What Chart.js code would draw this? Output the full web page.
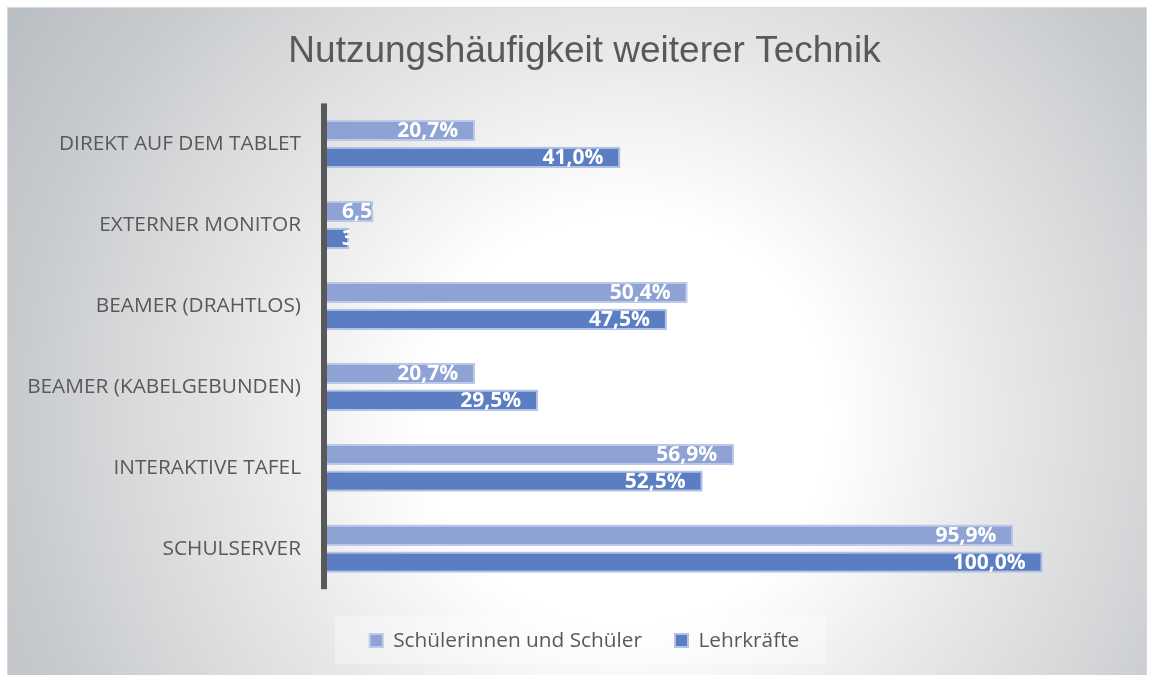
<!DOCTYPE html>
<html>
<head>
<meta charset="utf-8">
<script src="https://cdn.jsdelivr.net/npm/chart.js@4"></script>
<style>
  html, body { margin: 0; padding: 0; background: #fff; }
  #wrap { width: 1150px; height: 675px; }
</style>
</head>
<body>
<div id="wrap"><canvas id="myChart" width="1150" height="675"></canvas></div>
<script>
// data
const categories = ["DIREKT AUF DEM TABLET", "EXTERNER MONITOR", "BEAMER (DRAHTLOS)", "BEAMER (KABELGEBUNDEN)", "INTERAKTIVE TAFEL", "SCHULSERVER"]
const schueler = [20.7, 6.5, 50.4, 20.7, 56.9, 95.9]
const lehrer = [41.0, 3.1, 47.5, 29.5, 52.5, 100.0]
const seriesNames = ["Schülerinnen und Schüler", "Lehrkräfte"]

const grey = "#595959"

// frame + radial background
const bgPlugin = {
    id: "bg",
    beforeDraw(chart) {
        const c = chart.ctx
        c.save()
        c.fillStyle = "#fff"
        c.fillRect(0, 0, chart.width, chart.height)
        const g = c.createRadialGradient(625, 420, 0, 625, 420, 760)
        g.addColorStop(0, "#FFFFFF")
        g.addColorStop(0.27, "#FFFFFF")
        g.addColorStop(0.5, "#E7E7E8")
        g.addColorStop(0.8, "#C8CBCE")
        g.addColorStop(1, "#B7BCC0")
        c.fillStyle = g
        c.fillRect(7, 7, 1140, 668)
        c.strokeStyle = "#D9D9D9"
        c.lineWidth = 1
        c.strokeRect(7.5, 7.5, 1139, 668)
        // legend backdrop
        const boxes = chart.legend.legendHitBoxes
        if (boxes && boxes.length) {
            const l = Math.min(...boxes.map(b => b.left))
            const r = Math.max(...boxes.map(b => b.left + b.width))
            const cy = boxes[0].top + boxes[0].height / 2
            c.fillStyle = "rgba(255,255,255,0.35)"
            c.fillRect(l - 35, cy - 24, r - l + 62, 47)
        }
        c.restore()
    }
}

// thick category axis line left of the bars
const axisLine = {
    id: "axisLine",
    afterDatasetsDraw(chart) {
        const a = chart.chartArea
        const c = chart.ctx
        c.save()
        c.fillStyle = grey
        c.fillRect(a.left - 6, a.top, 6, a.bottom - a.top)
        c.restore()
    }
}

// white value labels at the inside end, clipped to the bar
const valueLabels = {
    id: "valueLabels",
    afterDatasetsDraw(chart) {
        const c = chart.ctx
        c.save()
        c.font = "bold 21px 'Open Sans'"
        c.fillStyle = "#fff"
        c.textBaseline = "middle"
        chart.data.datasets.forEach((ds, i) => {
            chart.getDatasetMeta(i).data.forEach((bar, j) => {
                const txt = ds.data[j].toFixed(1).replace(".", ",") + "%"
                const w = c.measureText(txt).width
                let x = bar.x - 17 - w
                if (x < bar.base + 15) x = bar.base + 15
                c.save()
                c.beginPath()
                c.rect(bar.base, bar.y - bar.height / 2, bar.x - bar.base, bar.height)
                c.clip()
                c.fillText(txt, x, bar.y + 1)
                c.restore()
            })
        })
        c.restore()
    }
}

const ctx = document.getElementById("myChart")

new Chart(ctx, {
    type: "bar",
    data: {
        labels: categories,
        datasets: [
            {
                label: seriesNames[0],
                data: schueler,
                backgroundColor: "#8FA2D4",
                borderColor: "#BCC8E8",
                borderWidth: 2,
                categoryPercentage: 0.665,
                barPercentage: 0.79,
            },
            {
                label: seriesNames[1],
                data: lehrer,
                backgroundColor: "#5A7EC1",
                borderColor: "#B3C2E5",
                borderWidth: 2,
                categoryPercentage: 0.665,
                barPercentage: 0.79,
            },
        ],
    },
    options: {
        indexAxis: "y",
        responsive: false,
        animation: false,
        layout: { padding: { left: 19, right: 0, top: 7, bottom: 14 } },
        scales: {
            x: {
                min: 0,
                max: 115,
                display: true,
                ticks: { display: false },
                grid: { display: false },
                border: { display: false },
                afterFit: s => { s.height = 8 },
            },
            y: {
                grid: { display: false },
                border: { display: false },
                ticks: {
                    color: grey,
                    padding: 18,
                    font: { family: "'Open Sans'", size: 20.8 },
                },
                afterFit: s => { s.width = 308 },
            },
        },
        plugins: {
            title: {
                display: true,
                text: "Nutzungshäufigkeit weiterer Technik",
                color: grey,
                font: { family: "'Liberation Sans'", size: 37, weight: "normal" },
                padding: { top: 23, bottom: 29 },
            },
            legend: {
                position: "bottom",
                labels: {
                    color: grey,
                    boxWidth: 13,
                    boxHeight: 13,
                    padding: 33,
                    font: { family: "'Open Sans'", size: 20.8 },
                },
            },
            tooltip: { enabled: false },
        },
    },
    plugins: [bgPlugin, axisLine, valueLabels],
})
</script>
</body>
</html>
